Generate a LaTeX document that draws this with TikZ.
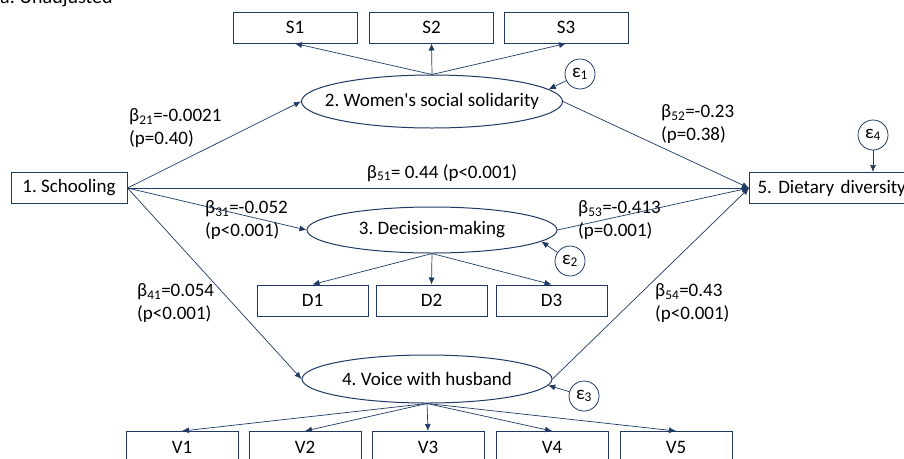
\documentclass[tikz,border=0pt]{standalone}
\usepackage{fontspec}
\setmainfont{Carlito}
\usetikzlibrary{shapes.geometric,arrows.meta}

\definecolor{pathblue}{RGB}{31,56,100}
\newcommand{\pathfont}{\fontsize{19}{23}\selectfont}
% zero-width label so that the ellipse keeps its given size
\newcommand{\latlbl}[1]{\makebox[0pt]{#1}}

\tikzset{
  obsbox/.style={draw=pathblue, line width=1pt, minimum height=31pt, inner sep=0pt, font=\pathfont},
  latent/.style={ellipse, draw=pathblue, line width=1pt, inner sep=0pt, font=\pathfont},
  errc/.style={circle, draw=pathblue, line width=0.8pt, minimum size=30pt, inner sep=0pt, font=\pathfont},
  link/.style={draw=pathblue, line width=0.7pt, -{Latex[length=7pt,width=6pt]}},
  coef/.style={anchor=west, align=left, inner sep=0pt, font=\pathfont}
}

\begin{document}
\frenchspacing
\begin{tikzpicture}[x=1pt,y=-1pt]
  \useasboundingbox (0,0) rectangle (904,458);
  % Title (cut off at the top)
  \node[anchor=base west, inner sep=0pt, font=\fontsize{20}{24}\selectfont] (title) at (0,3) {a. Unadjusted};

  % Latent variables
  \node[latent, minimum width=261pt, minimum height=53pt] (ws) at (432,101.5) {\latlbl{2. Women\textquotesingle s social solidarity}};
  \node[latent, minimum width=250pt, minimum height=46pt] (dm) at (432,230) {\latlbl{3. Decision-making}};
  \node[latent, minimum width=250pt, minimum height=48pt] (vh) at (427,379) {\latlbl{4. Voice with husband}};

  % Exposure and outcome
  \node[obsbox, minimum width=116pt] (school) at (69,188) {1. Schooling};
  \node[obsbox, anchor=west, text width=200pt, align=left, inner xsep=8pt] (diet) at (749,188) {5. Dietary diversity};

  % Indicators
  \foreach \name/\lbl/\x in {s1/S1/295, s2/S2/431.5, s3/S3/566}
    \node[obsbox, minimum width=124pt] (\name) at (\x,27.5) {\lbl};
  \foreach \name/\lbl/\x in {d1/D1/312.5, d2/D2/431.5, d3/D3/551.5}
    \node[obsbox, minimum width=111pt] (\name) at (\x,300.5) {\lbl};
  \foreach \name/\lbl/\x in {v1/V1/182, v2/V2/305, v3/V3/428, v4/V4/552, v5/V5/676}
    \node[obsbox, minimum width=112pt] (\name) at (\x,447) {\lbl};

  % Measurement arrows
  \foreach \t in {s1,s2,s3}
    \draw[link] (ws.north) -- (\t.south);
  \foreach \t in {d1,d2,d3}
    \draw[link] (dm.south) -- (\t.north);
  \foreach \t in {v1,v2,v3,v4,v5}
    \draw[link] (vh.south) -- (\t.north);

  % Structural paths
  \foreach \t in {ws,dm,vh}
    \draw[link] (school.east) -- (\t.west);
  \draw[link] (school.east) -- (diet.west);
  \foreach \s in {ws,dm,vh}
    \draw[link] (\s.east) -- (diet.west);

  % Error terms
  \node[errc] (e1) at (580,74) {ε\textsubscript{1}};
  \node[errc] (e2) at (570,261) {ε\textsubscript{2}};
  \node[errc] (e3) at (584,396) {ε\textsubscript{3}};
  \node[errc] (e4) at (873,135) {ε\textsubscript{4}};
  \draw[link] (e1) -- (ws.6);
  \draw[link] (e2) -- (dm.-6);
  \draw[link] (e3) -- (vh.-3);
  \draw[link] (e4) -- (e4 |- diet.north);

  % Coefficients
  \node[coef] (b21) at (129,128) {β\textsubscript{21}=-0.0021\\(p=0.40)};
  \node[coef] (b52) at (661,124) {β\textsubscript{52}=-0.23\\(p=0.38)};
  \node[font=\pathfont, inner sep=0pt] (b51) at (442,173) {β\textsubscript{51}= 0.44 (p<0.001)};
  \node[coef] (b31) at (205,220) {β\textsubscript{31}=-0.052\\(p<0.001)};
  \node[coef] (b53) at (578,220) {β\textsubscript{53}=-0.413\\(p=0.001)};
  \node[coef] (b41) at (137,303) {β\textsubscript{41}=0.054\\(p<0.001)};
  \node[coef] (b54) at (655,303) {β\textsubscript{54}=0.43\\(p<0.001)};
\end{tikzpicture}
\end{document}
